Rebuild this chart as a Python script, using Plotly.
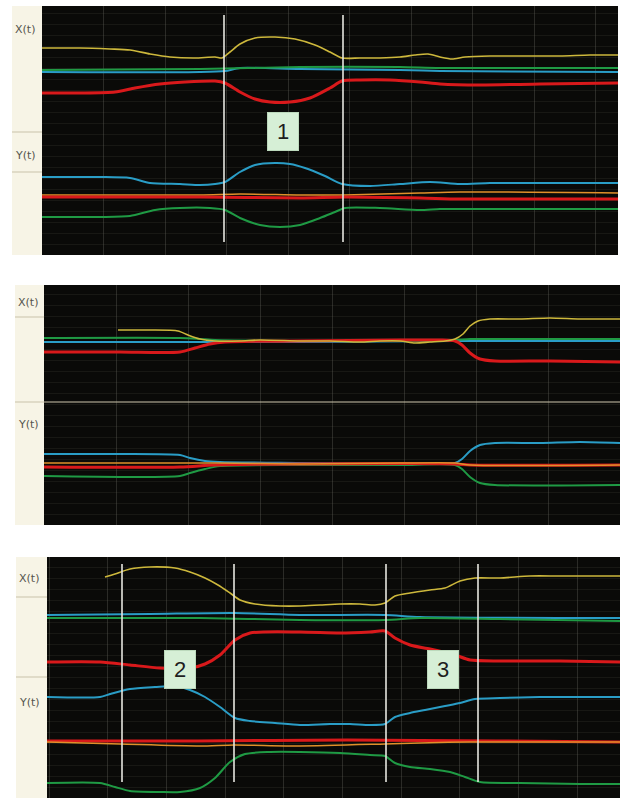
import plotly.graph_objects as go

W_IMG, H_IMG = 626, 801

# ---------------- data (time samples, signal level) ----------------
# Panel 1
P1_YEL_X_T = [0,38,68,88,108,128,153,173,180,188,198,213,233,253,273,288,300,318,338,358,373,386,398,410,423,448,478,518,548,576]
P1_YEL_X_V = [207,207,206,205,201,198,197,198,197,203,211,217,218,216,210,203,197,197,197,198,200,201,198,196,198,199,199,199,200,200]
P1_BLU_X_T = [0,158,183,198,258,358,398,576]
P1_BLU_X_V = [183,183,184,187,186,185,184,183]
P1_GRN_X_T = [0,158,258,358,398,576]
P1_GRN_X_V = [185,186,188,188,187,187]
P1_RED_X_T = [0,38,73,93,118,143,173,183,198,213,228,248,268,288,300,318,348,378,398,438,498,576]
P1_RED_X_V = [162,162,163,167,171,173,174,172,163,156,153,153,157,167,174,175,175,173,171,170,171,172]
P1_BLU_Y_T = [0,58,88,108,138,158,173,183,198,213,233,248,263,283,300,328,358,388,418,448,498,576]
P1_BLU_Y_V = [78,78,77,72,71,70,71,73,83,90,92,91,87,79,71,69,71,73,71,72,72,72]
P1_ORG_Y_T = [0,158,198,258,303,378,418,576]
P1_ORG_Y_V = [60,60,61,60,60,62,63,62]
P1_RED_Y_T = [0,158,258,303,378,418,576]
P1_RED_Y_V = [58,58,57,58,57,56,56]
P1_GRN_Y_T = [0,58,88,113,138,168,183,198,218,238,258,278,293,303,338,378,398,438,576]
P1_GRN_Y_V = [38,38,39,45,47,47,45,37,30,28,30,37,43,47,47,45,46,46,46]
P1_CURSOR_T = [182, 301]
P1_LABELS = ["1"]
P1_LABEL_T = [241]
P1_LABEL_V = [124]

# Panel 2
P2_YEL_X_T = [74,106,134,144,156,171,196,216,256,286,316,336,356,371,386,401,411,419,426,434,446,476,506,536,576]
P2_YEL_X_V = [195,195,194,190,186,184,184,185,184,184,183,184,184,182,183,184,186,191,199,204,206,206,207,206,206]
P2_BLU_X_T = [0,136,171,256,411,426,576]
P2_BLU_X_V = [183,183,183,183,184,184,184]
P2_GRN_X_T = [0,136,156,171,256,356,411,426,456,576]
P2_GRN_X_V = [187,187,186,185,184,184,185,186,186,186]
P2_RED_X_T = [0,76,136,151,166,181,256,356,396,411,418,426,436,451,506,576]
P2_RED_X_V = [173,173,173,177,181,183,184,185,185,184,180,172,166,164,164,163]
P2_BLU_Y_T = [0,76,136,146,161,176,256,356,396,411,418,426,436,451,496,536,576]
P2_BLU_Y_V = [71,71,70,67,64,63,62,61,61,62,66,74,80,82,82,83,82]
P2_ORG_Y_T = [0,136,171,256,356,411,426,576]
P2_ORG_Y_V = [62,62,62,61,62,62,60,60]
P2_RED_Y_T = [0,136,171,256,411,426,576]
P2_RED_Y_V = [58,58,60,61,61,60,60]
P2_GRN_Y_T = [0,136,146,161,176,256,356,411,418,426,436,451,576]
P2_GRN_Y_V = [49,49,52,56,59,60,60,60,56,48,42,40,40]
P2_DIVIDER_V = [123]

# Panel 3
P3_YEL_X_T = [58,68,83,103,128,143,158,171,183,193,208,233,253,273,293,313,328,338,348,363,383,398,413,428,453,483,513,573]
P3_YEL_X_V = [221,224,229,231,230,226,220,213,205,198,194,192,192,193,194,194,193,195,202,205,208,210,217,220,220,222,222,222]
P3_BLU_X_T = [0,103,188,253,338,373,573]
P3_BLU_X_V = [183,184,185,183,183,181,180]
P3_GRN_X_T = [0,153,253,338,373,453,573]
P3_GRN_X_V = [180,180,178,178,180,179,177]
P3_RED_X_T = [0,53,83,113,143,158,173,188,203,253,293,323,338,348,363,383,408,423,453,513,573]
P3_RED_X_V = [136,136,133,130,130,134,143,158,165,166,165,166,167,160,153,149,143,138,137,137,136]
P3_BLU_Y_T = [0,53,63,83,108,128,143,158,173,188,203,228,253,283,303,323,338,348,363,378,398,413,428,453,493,533,573]
P3_BLU_Y_V = [101,101,104,109,111,112,108,101,91,80,77,75,73,74,74,73,74,81,85,88,92,95,99,100,101,101,101]
P3_RED_Y_T = [0,150,300,450,573]
P3_RED_Y_V = [57,57,58,57,56]
P3_ORG_Y_T = [0,73,153,187,253,338,373,423,573]
P3_ORG_Y_V = [56,54,52,53,52,54,55,56,56]
P3_GRN_Y_T = [0,53,68,83,113,133,153,168,183,198,223,253,293,323,338,348,363,383,403,418,433,473,533,573]
P3_GRN_Y_V = [15,15,11,7,6,6,10,20,36,44,46,46,45,43,42,35,31,29,26,21,16,15,14,14]
P3_CURSOR_T = [75, 187, 339, 431]
P3_LABELS = ["2", "3"]
P3_LABEL_T = [133, 396]
P3_LABEL_V = [129, 129]

CHANNEL_NAMES = ["X(t)", "Y(t)"]

# ---------------- styling ----------------
YEL, GRN, BLU, RED, ORG = "#cdb83c", "#1f9a44", "#2a9dc6", "#d9191b", "#e0902a"
BG = "#0a0a08"
STRIP = "#f7f4e6"

def px2x(p):
    return p / W_IMG

def px2y(p):
    return 1 - p / H_IMG

PANELS = [
    dict(l=42, r=618, t=6, b=255, sl=12, lab=(30, 155), lines=(132, 172), W=576, H=249, dtick=61.5, tick0=0),
    dict(l=44, r=620, t=285, b=525, sl=15, lab=(302, 425), lines=(317, 402), W=576, H=240, dtick=72, tick0=0),
    dict(l=47, r=620, t=557, b=798, sl=16, lab=(578, 702), lines=(597, 677), W=573, H=241, dtick=58.7, tick0=2),
]

fig = go.Figure()
layout = dict(
    width=W_IMG, height=H_IMG, margin=dict(l=0, r=0, t=0, b=0),
    paper_bgcolor="white", plot_bgcolor=BG, showlegend=False,
    shapes=[], annotations=[],
)

def add_line(ax, t, v, color, width):
    fig.add_trace(go.Scatter(
        x=t, y=v, mode="lines", xaxis="x" + ax, yaxis="y" + ax,
        line=dict(color=color, width=width, shape="spline", smoothing=0.7),
        hoverinfo="skip"))

series = [
    [(P1_BLU_X_T, P1_BLU_X_V, BLU, 2), (P1_GRN_X_T, P1_GRN_X_V, GRN, 2), (P1_RED_X_T, P1_RED_X_V, RED, 3),
     (P1_YEL_X_T, P1_YEL_X_V, YEL, 1.6), (P1_GRN_Y_T, P1_GRN_Y_V, GRN, 2), (P1_BLU_Y_T, P1_BLU_Y_V, BLU, 2),
     (P1_ORG_Y_T, P1_ORG_Y_V, ORG, 1.5), (P1_RED_Y_T, P1_RED_Y_V, RED, 3)],
    [(P2_BLU_X_T, P2_BLU_X_V, BLU, 2), (P2_GRN_X_T, P2_GRN_X_V, GRN, 2), (P2_RED_X_T, P2_RED_X_V, RED, 3),
     (P2_YEL_X_T, P2_YEL_X_V, YEL, 1.6), (P2_GRN_Y_T, P2_GRN_Y_V, GRN, 2), (P2_BLU_Y_T, P2_BLU_Y_V, BLU, 2),
     (P2_RED_Y_T, P2_RED_Y_V, RED, 3), (P2_ORG_Y_T, P2_ORG_Y_V, ORG, 1.5)],
    [(P3_BLU_X_T, P3_BLU_X_V, BLU, 2), (P3_GRN_X_T, P3_GRN_X_V, GRN, 2), (P3_RED_X_T, P3_RED_X_V, RED, 3),
     (P3_YEL_X_T, P3_YEL_X_V, YEL, 1.6), (P3_GRN_Y_T, P3_GRN_Y_V, GRN, 2), (P3_BLU_Y_T, P3_BLU_Y_V, BLU, 2),
     (P3_RED_Y_T, P3_RED_Y_V, RED, 3), (P3_ORG_Y_T, P3_ORG_Y_V, ORG, 1.5)],
]
cursors = [P1_CURSOR_T, [], P3_CURSOR_T]
cursor_span = [(13, 240), None, (16, 234)]
labels = [(P1_LABELS, P1_LABEL_T, P1_LABEL_V), ([], [], []), (P3_LABELS, P3_LABEL_T, P3_LABEL_V)]

for i, p in enumerate(PANELS):
    ax = "" if i == 0 else str(i + 1)
    xa = "xaxis" + ax
    ya = "yaxis" + ax
    layout[xa] = dict(domain=[px2x(p["l"]), px2x(p["r"])], range=[0, p["W"]], anchor="y" + ax,
                      showgrid=True, gridcolor="rgba(150,150,140,0.24)", gridwidth=1,
                      tick0=p["tick0"], dtick=p["dtick"], showticklabels=False, zeroline=False,
                      ticks="", showline=False, fixedrange=True)
    layout[ya] = dict(domain=[px2y(p["b"]), px2y(p["t"])], range=[0, p["H"]], anchor="x" + ax,
                      showgrid=True, gridcolor="rgba(110,110,100,0.14)", gridwidth=1,
                      tick0=0, dtick=11, showticklabels=False, zeroline=False,
                      ticks="", showline=False, fixedrange=True)
    layout["shapes"].append(dict(type="rect", xref="paper", yref="paper",
                                 x0=px2x(p["sl"]), x1=px2x(p["l"]), y0=px2y(p["b"]), y1=px2y(p["t"]),
                                 fillcolor=STRIP, line=dict(width=0), layer="below"))
    for ly in p["lines"]:
        layout["shapes"].append(dict(type="line", xref="paper", yref="paper",
                                     x0=px2x(p["sl"]), x1=px2x(p["l"]), y0=px2y(ly), y1=px2y(ly),
                                     line=dict(color="#c9c2aa", width=1)))
    for name, ly in zip(CHANNEL_NAMES, p["lab"]):
        layout["annotations"].append(dict(xref="paper", yref="paper", x=px2x(p["sl"] + 1), y=px2y(ly),
                                          text=name, showarrow=False, xanchor="left", yanchor="middle",
                                          font=dict(family="DejaVu Sans", size=11, color="#55554e")))
    for (t, v, c, w) in series[i]:
        add_line(ax, t, v, c, w)
    if cursor_span[i] is not None:
        v0, v1 = cursor_span[i]
        for ct in cursors[i]:
            layout["shapes"].append(dict(type="line", xref="x" + ax, yref="y" + ax,
                                         x0=ct, x1=ct, y0=v0, y1=v1,
                                         line=dict(color="#e6e6e0", width=1.6)))
    for txt, lt, lv in zip(*labels[i]):
        layout["annotations"].append(dict(xref="x" + ax, yref="y" + ax, x=lt, y=lv, text=txt,
                                          showarrow=False, bgcolor="#d6efd6", bordercolor="#bcd9bc",
                                          borderwidth=1, borderpad=3, width=24, height=31,
                                          font=dict(family="Liberation Sans", size=22, color="#1e1e1e")))

layout["shapes"].append(dict(type="line", xref="x2 domain", yref="y2",
                             x0=0, x1=1, y0=P2_DIVIDER_V[0], y1=P2_DIVIDER_V[0],
                             line=dict(color="#cfc7ae", width=1)))

fig.update_layout(**layout)
fig.write_html("out.html", config={"displayModeBar": False},
               post_script="document.body.style.margin='0';document.body.style.overflow='hidden';")
